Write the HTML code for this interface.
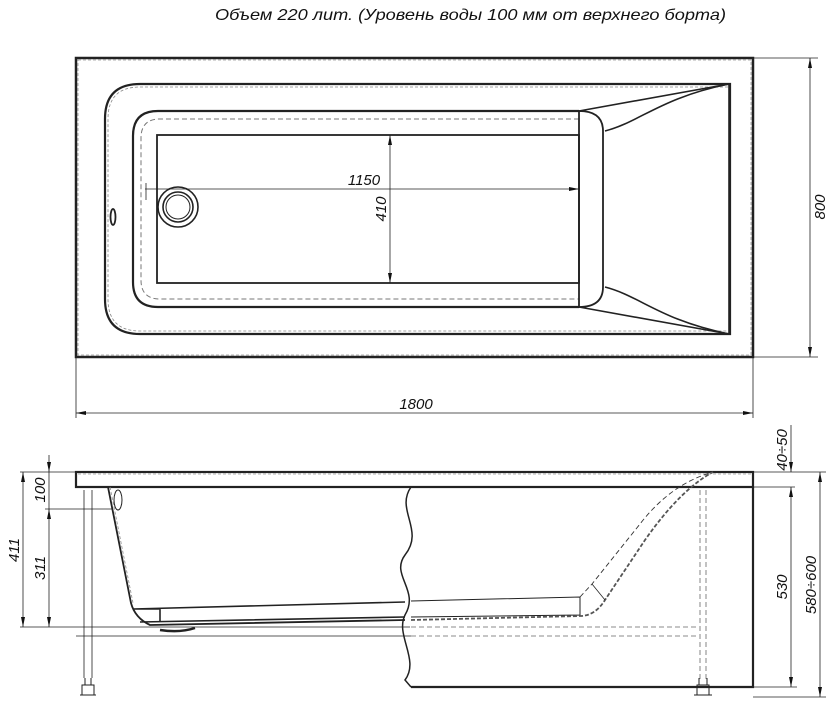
<!DOCTYPE html>
<html><head><meta charset="utf-8"><style>
html,body{margin:0;padding:0;background:#fff}
svg{display:block}
text{font-family:"Liberation Sans",sans-serif;font-style:italic;fill:#111}
</style></head><body>
<svg width="826" height="704" viewBox="0 0 826 704" xmlns="http://www.w3.org/2000/svg">
<defs>
<marker id="a" viewBox="0 0 10 4" refX="10" refY="2" markerWidth="10" markerHeight="4" orient="auto-start-reverse" markerUnits="userSpaceOnUse"><path d="M0,0 L10,2 L0,4z" fill="#111"/></marker>
</defs>
<text x="215" y="20" font-size="16" textLength="511" lengthAdjust="spacingAndGlyphs">Объем 220 лит. (Уровень воды 100 мм от верхнего борта)</text>

<g fill="none" stroke="#222">
<!-- TOP VIEW -->
<rect x="76" y="58" width="677" height="299" stroke-width="2.5"/>
<rect x="78" y="60" width="673" height="295" stroke="#999" stroke-width="0.8" stroke-dasharray="3 2"/>
<path d="M730,84 H140 Q105,84 105,119 V299 Q105,334 140,334 H730 Z" stroke-width="2.2"/>
<path d="M728,87 H140 Q108,87 108,119 V299 Q108,331 140,331 H728" stroke="#888" stroke-width="0.8" stroke-dasharray="3 2"/>
<path d="M579,111 H158 Q133,111 133,136 V282 Q133,307 158,307 H579" stroke-width="2.2"/>
<path d="M579,119 H160 Q141,119 141,138 V280 Q141,299 160,299 H579" stroke="#777" stroke-width="1" stroke-dasharray="5 3"/>
<rect x="157" y="135" width="422" height="148" stroke-width="1.8"/>
<path d="M579,111 Q603,111 603,131 V287 Q603,307 579,307 V111" stroke-width="1.8"/>
<path d="M579,111 L729,84 M579,307 L729,334 M729,84 V334" stroke-width="1.6"/>
<path d="M605,131 C640,122 660,98 729,84 M605,287 C640,296 660,320 729,334" stroke-width="1.6"/>
<circle cx="178" cy="207" r="20" stroke-width="1.6"/>
<circle cx="178" cy="207" r="15" stroke-width="1.6"/>
<circle cx="178" cy="207" r="12" stroke-width="1"/>
<ellipse cx="113" cy="217" rx="2.5" ry="8" stroke-width="1.8"/>
<!-- dims top -->
<g stroke-width="0.8">
<path d="M145,189 H579" marker-end="url(#a)"/>
<path d="M146,183 V200"/>
<path d="M390,135 V283" marker-start="url(#a)" marker-end="url(#a)"/>
<path d="M753,58 H818 M753,357 H818"/>
<path d="M810,58 V357" marker-start="url(#a)" marker-end="url(#a)"/>
<path d="M76,357 V418 M753,357 V418"/>
<path d="M76,413 H753" marker-start="url(#a)" marker-end="url(#a)"/>
</g>

<!-- SIDE VIEW -->
<rect x="76" y="472" width="677" height="15" stroke-width="2.2"/>
<path d="M78,474 H751" stroke="#999" stroke-width="0.8" stroke-dasharray="3 2"/>
<path d="M411,687 H753 V487" stroke-width="2.2"/>
<path d="M411,487 C395,510 425,530 405,555 C390,575 420,590 405,615 C395,635 420,660 405,680 L411,687" stroke-width="1.5"/>
<path d="M108,487 L131,603 Q135,618 150,625 L405,620" stroke-width="1.8"/>
<path d="M110,487 L133,603" stroke="#888" stroke-width="0.8" stroke-dasharray="3 2"/>
<ellipse cx="118" cy="500" rx="4" ry="10" stroke-width="1"/>
<path d="M133,609 L405,602 M133,609 H160 V622 M140,622 L405,617" stroke-width="1.6"/>
<path d="M160,630 Q180,633 195,628" stroke-width="2.5"/>
<path d="M411,601 L580,597 V616 M411,617 L580,615" stroke-width="1"/>
<path d="M411,620 L580,616 Q595,616 605,600 L645,540 Q680,490 713,472" stroke="#555" stroke-width="1.8" stroke-dasharray="4 2"/>
<path d="M580,597 L592,584 L640,524 Q670,485 710,473" stroke="#333" stroke-width="0.9" stroke-dasharray="5 3"/>
<path d="M592,584 L605,600" stroke-width="0.8"/>
<path d="M411,627 H697 M411,636 H697 M700,490 V680 M706,490 V680" stroke="#666" stroke-width="0.8" stroke-dasharray="5 3"/>
<path d="M76,636 H411" stroke-width="0.8"/>
<path d="M84,490 V678 M92,490 V678" stroke-width="0.8"/>
<path d="M85,678 V685 H91 V678 M82,685 H94 V695 H82Z M80,695 H96" stroke-width="1"/>
<path d="M699,678 V685 H707 V678 M697,685 H709 V695 H697Z M694,695 H712" stroke-width="1"/>
<g stroke-width="0.8">
<path d="M20,472 H76 M45,509 H113 M20,627 H410"/>
<path d="M23,472 V627" marker-start="url(#a)" marker-end="url(#a)"/>
<path d="M49,455 V472" marker-end="url(#a)"/>
<path d="M49,509 V627" marker-start="url(#a)" marker-end="url(#a)"/>
<path d="M49,472 V509"/>
<path d="M753,472 H826 M753,487 H795 M753,687 H797 M753,697 H826"/>
<path d="M791,425 V472" marker-end="url(#a)"/>
<path d="M791,487 V687" marker-start="url(#a)" marker-end="url(#a)"/>
<path d="M820,472 V697" marker-start="url(#a)" marker-end="url(#a)"/>
</g>
</g>

<text x="364" y="185" font-size="15" text-anchor="middle">1150</text>
<text transform="translate(386,209) rotate(-90)" font-size="15" text-anchor="middle">410</text>
<text transform="translate(825,207) rotate(-90)" font-size="15" text-anchor="middle">800</text>
<text x="416" y="409" font-size="15" text-anchor="middle">1800</text>
<text transform="translate(19,550) rotate(-90)" font-size="15" text-anchor="middle">411</text>
<text transform="translate(45,490) rotate(-90)" font-size="15" text-anchor="middle">100</text>
<text transform="translate(45,568) rotate(-90)" font-size="15" text-anchor="middle">311</text>
<text transform="translate(787,450) rotate(-90)" font-size="15" text-anchor="middle">40÷50</text>
<text transform="translate(787,587) rotate(-90)" font-size="15" text-anchor="middle">530</text>
<text transform="translate(816,585) rotate(-90)" font-size="15" text-anchor="middle">580÷600</text>
</svg>
</body></html>
